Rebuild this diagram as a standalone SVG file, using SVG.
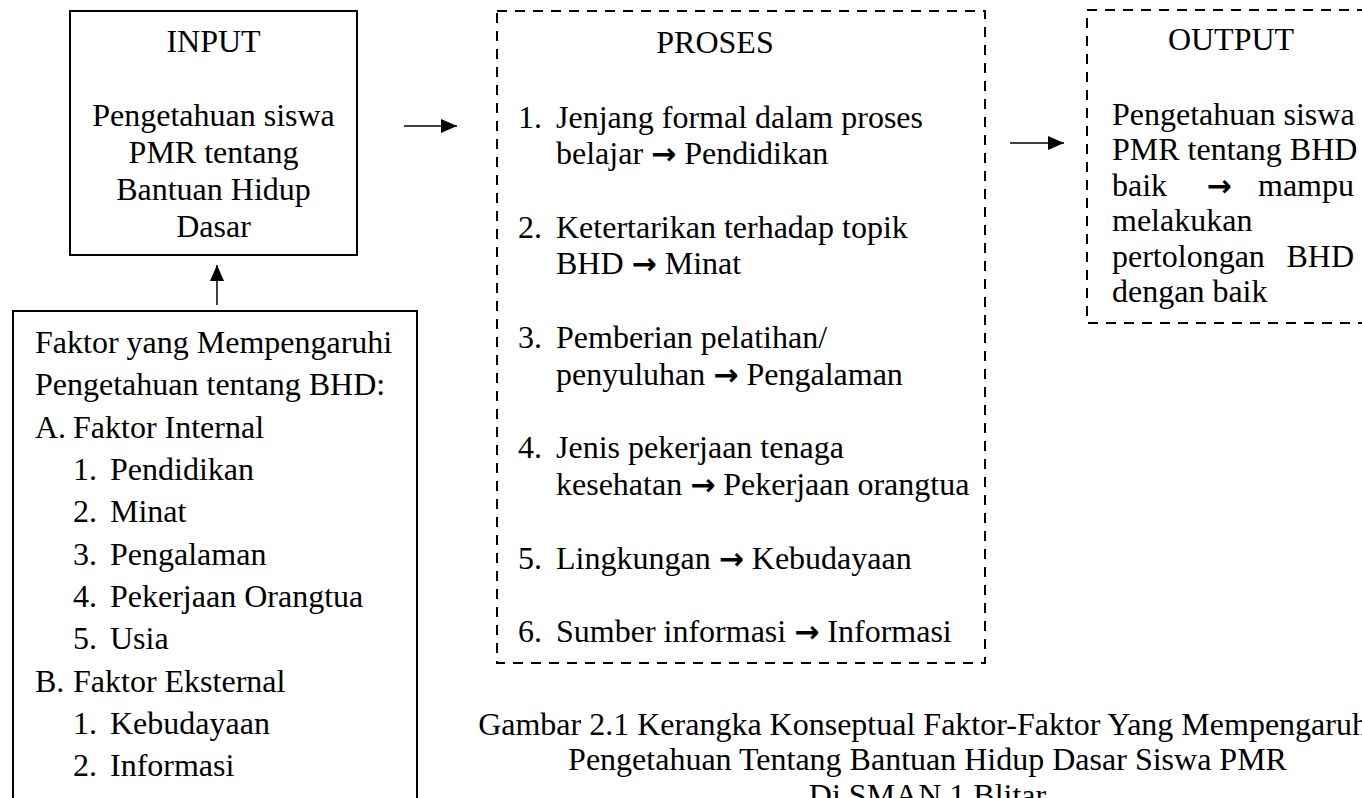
<svg xmlns="http://www.w3.org/2000/svg" width="1362" height="798" viewBox="0 0 1362 798">
<defs>
<style>
text{font-family:"Liberation Serif","Times New Roman",serif;font-size:32px;fill:#000}
.c{text-anchor:middle}
.e{text-anchor:end}
.ar{font-family:"DejaVu Sans",sans-serif;font-weight:bold;font-size:30px}
.solid{fill:#fff;stroke:#000;stroke-width:2}
.dash{fill:#fff;stroke:#000;stroke-width:2;stroke-dasharray:10 8}
.conn{stroke:#000;stroke-width:1.5;fill:none}
</style>
<marker id="ah" markerUnits="userSpaceOnUse" markerWidth="16" markerHeight="14" refX="16" refY="7" orient="auto">
<path d="M0,0 L16,7 L0,14 Z" fill="#000"/>
</marker>
</defs>
<rect width="1362" height="798" fill="#fff"/>

<g id="input">
<rect class="solid" x="70" y="11" width="287" height="244"/>
<text class="c" x="213.5" y="52">INPUT</text>
<text class="c" x="213.5" y="126">Pengetahuan siswa</text>
<text class="c" x="213.5" y="163">PMR tentang</text>
<text class="c" x="213.5" y="200">Bantuan Hidup</text>
<text class="c" x="213.5" y="237">Dasar</text>
</g>

<g id="faktor">
<rect class="solid" x="13" y="311" width="404" height="500"/>
<text x="35" y="353">Faktor yang Mempengaruhi</text>
<text x="35" y="395">Pengetahuan tentang BHD:</text>
<text x="35" y="438">A.</text><text x="73" y="438">Faktor Internal</text>
<text x="73" y="480">1.</text><text x="110" y="480">Pendidikan</text>
<text x="73" y="522">2.</text><text x="110" y="522">Minat</text>
<text x="73" y="565">3.</text><text x="110" y="565">Pengalaman</text>
<text x="73" y="607">4.</text><text x="110" y="607">Pekerjaan Orangtua</text>
<text x="73" y="649">5.</text><text x="110" y="649">Usia</text>
<text x="35" y="692">B.</text><text x="73" y="692">Faktor Eksternal</text>
<text x="73" y="734">1.</text><text x="110" y="734">Kebudayaan</text>
<text x="73" y="776">2.</text><text x="110" y="776">Informasi</text>
</g>

<g id="proses">
<rect class="dash" x="497" y="11" width="488" height="652"/>
<text class="c" x="715" y="53">PROSES</text>
<text x="518" y="128">1.</text><text x="556" y="128">Jenjang formal dalam proses</text>
<text x="556" y="164">belajar <tspan class="ar">→</tspan> Pendidikan</text>
<text x="518" y="238">2.</text><text x="556" y="238">Ketertarikan terhadap topik</text>
<text x="556" y="274">BHD <tspan class="ar">→</tspan> Minat</text>
<text x="518" y="348">3.</text><text x="556" y="348">Pemberian pelatihan/</text>
<text x="556" y="385">penyuluhan <tspan class="ar">→</tspan> Pengalaman</text>
<text x="518" y="458">4.</text><text x="556" y="458">Jenis pekerjaan tenaga</text>
<text x="556" y="495">kesehatan <tspan class="ar">→</tspan> Pekerjaan orangtua</text>
<text x="518" y="569">5.</text><text x="556" y="569">Lingkungan <tspan class="ar">→</tspan> Kebudayaan</text>
<text x="518" y="642">6.</text><text x="556" y="642">Sumber informasi <tspan class="ar">→</tspan> Informasi</text>
</g>

<g id="output">
<rect class="dash" x="1087" y="10" width="290" height="313"/>
<text class="c" x="1231" y="50">OUTPUT</text>
<text x="1112" y="125">Pengetahuan siswa</text>
<text x="1112" y="160">PMR tentang BHD</text>
<text x="1112" y="196">baik</text><text class="ar c" x="1219" y="196">→</text><text class="e" x="1354" y="196">mampu</text>
<text x="1112" y="231">melakukan</text>
<text x="1112" y="267">pertolongan</text><text class="e" x="1354" y="267">BHD</text>
<text x="1112" y="302">dengan baik</text>
</g>

<g id="connectors">
<line class="conn" x1="217" y1="305" x2="217" y2="265" marker-end="url(#ah)"/>
<line class="conn" x1="404" y1="126" x2="457" y2="126" marker-end="url(#ah)"/>
<line class="conn" x1="1010" y1="143" x2="1064" y2="143" marker-end="url(#ah)"/>
</g>

<g id="caption">
<text class="c" x="927.5" y="735">Gambar 2.1 Kerangka Konseptual Faktor-Faktor Yang Mempengaruhi</text>
<text class="c" x="927.5" y="770">Pengetahuan Tentang Bantuan Hidup Dasar Siswa PMR</text>
<text class="c" x="927.5" y="806">Di SMAN 1 Blitar</text>
</g>
</svg>
